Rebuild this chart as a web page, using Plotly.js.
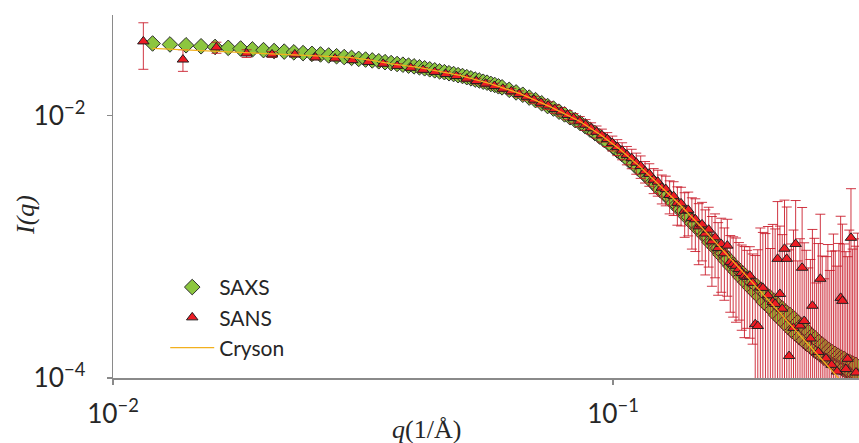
<!DOCTYPE html>
<html><head><meta charset="utf-8">
<script src="https://cdn.plot.ly/plotly-3.0.1.min.js"></script>
<style>html,body{margin:0;padding:0;background:#fff}#chart{width:859px;height:443px}</style>
</head><body><div id="chart"></div>
<script>
// SAXS data (q in 1/Å, intensity)
const saxsQ = [
0.012,0.013,0.014,0.015,0.016,0.017,0.018,0.019,0.020,0.021,
0.022,0.023,0.024,0.025,0.026,0.027,0.028,0.029,0.030,0.031,
0.032,0.033,0.034,0.035,0.036,0.037,0.038,0.039,0.040,0.041,
0.042,0.043,0.044,0.045,0.046,0.047,0.048,0.049,0.050,0.051,
0.052,0.053,0.054,0.055,0.056,0.057,0.058,0.059,0.060,
0.062,0.064,0.066,0.068,0.070,0.072,0.074,0.076,0.078,0.080,
0.082,0.084,0.086,0.088,0.090,0.092,0.094,0.096,0.098,0.100,
0.102,0.104,0.106,0.108,0.110,0.112,0.114,0.116,0.118,0.120,
0.122,0.124,0.126,0.128,0.130,0.132,0.134,0.136,0.138,0.140,
0.142,0.144,0.146,0.148,0.150,0.152,0.154,0.156,0.158,0.160,
0.162,0.164,0.166,0.168,0.170,0.172,0.174,0.176,0.178,0.180,
0.182,0.184,0.186,0.188,0.190,0.192,0.194,0.196,0.198,0.200,
0.202,0.204,0.206,0.208,0.210,0.212,0.214,0.216,0.218,0.220,
0.222,0.224,0.226,0.228,0.230,0.232,0.234,0.236,0.238,0.240,
0.242,0.244,0.246,0.248,0.250,0.252,0.254,0.256,0.258,0.260,
0.262,0.264,0.266,0.268,0.270,0.272,0.274,0.276,0.278,0.280,
0.282,0.284,0.286,0.288,0.290,0.292,0.294,0.296,0.298,0.300,
0.302,0.304,0.306,0.308];
const saxsI = [
3.54e-2,3.48e-2,3.43e-2,3.37e-2,3.33e-2,3.28e-2,3.24e-2,3.19e-2,3.15e-2,3.10e-2,
3.07e-2,3.03e-2,2.99e-2,2.95e-2,2.92e-2,2.87e-2,2.83e-2,2.79e-2,2.75e-2,2.70e-2,
2.67e-2,2.63e-2,2.59e-2,2.55e-2,2.51e-2,2.47e-2,2.44e-2,2.40e-2,2.37e-2,2.33e-2,
2.29e-2,2.25e-2,2.21e-2,2.17e-2,2.14e-2,2.10e-2,2.07e-2,2.03e-2,2.00e-2,1.96e-2,
1.92e-2,1.88e-2,1.85e-2,1.81e-2,1.78e-2,1.74e-2,1.71e-2,1.67e-2,1.64e-2,
1.57e-2,1.50e-2,1.44e-2,1.37e-2,1.31e-2,1.24e-2,1.18e-2,1.13e-2,1.07e-2,1.02e-2,
9.70e-3,9.23e-3,8.75e-3,8.28e-3,7.80e-3,7.35e-3,6.92e-3,6.52e-3,6.14e-3,5.78e-3,
5.42e-3,5.11e-3,4.82e-3,4.48e-3,4.28e-3,3.97e-3,3.78e-3,3.51e-3,3.36e-3,3.09e-3,
2.95e-3,2.72e-3,2.63e-3,2.43e-3,2.33e-3,2.15e-3,2.09e-3,1.92e-3,1.87e-3,1.70e-3,
1.68e-3,1.51e-3,1.49e-3,1.36e-3,1.34e-3,1.22e-3,1.20e-3,1.08e-3,1.09e-3,9.77e-4,
9.73e-4,8.71e-4,8.91e-4,7.85e-4,8.09e-4,7.08e-4,7.33e-4,6.46e-4,6.76e-4,5.86e-4,
6.24e-4,5.37e-4,5.75e-4,4.90e-4,5.31e-4,4.52e-4,5.01e-4,4.17e-4,4.68e-4,3.80e-4,
4.37e-4,3.55e-4,4.12e-4,3.31e-4,3.85e-4,3.02e-4,3.59e-4,2.82e-4,3.39e-4,2.63e-4,
3.16e-4,2.45e-4,3.02e-4,2.29e-4,2.85e-4,2.16e-4,2.66e-4,2.04e-4,2.51e-4,1.93e-4,
2.37e-4,1.82e-4,2.24e-4,1.74e-4,2.09e-4,1.64e-4,2.00e-4,1.57e-4,1.88e-4,1.50e-4,
1.80e-4,1.43e-4,1.72e-4,1.38e-4,1.64e-4,1.33e-4,1.58e-4,1.29e-4,1.53e-4,1.24e-4,
1.48e-4,1.22e-4,1.43e-4,1.17e-4,1.40e-4,1.14e-4,1.35e-4,1.11e-4,1.32e-4,1.08e-4,
1.29e-4,1.06e-4,1.26e-4,1.04e-4];

// SANS data with error bars
const sansQ = [
0.0115,0.0138,0.0161,0.0185,0.0208,0.0231,0.0254,0.0278,0.0301,0.0324,
0.0347,0.0370,0.0394,0.0417,0.0440,0.0463,0.0486,0.0510,0.0533,0.0556,
0.0579,0.0602,0.0626,0.0649,0.0672,0.0695,0.0718,0.0742,0.0765,0.0788,
0.0811,0.0834,0.0858,0.0881,0.0904,0.0927,0.0950,0.0974,0.0997,0.1020,
0.1043,0.1066,0.1090,0.1113,0.1136,0.1159,0.1182,0.1206,0.1229,0.1252,
0.1275,0.1298,0.1322,0.1345,0.1368,0.1391,0.1414,0.1438,0.1461,0.1484,
0.1507,0.1530,0.1554,0.1577,0.1600,0.1623,0.1646,0.1670,0.1693,0.1716,
0.1739,0.1762,0.1786,0.1809,0.1832,0.1855,0.1878,0.1902,0.1925,0.1948,
0.1971,0.1994,0.2018,0.2041,0.2064,0.2087,0.2110,0.2134,0.2157,0.2180,
0.2203,0.2226,0.2250,0.2273,0.2296,0.2319,0.2342,0.2366,0.2389,0.2412,
0.2435,0.2458,0.2482,0.2505,0.2528,0.2551,0.2574,0.2598,0.2621,0.2644,
0.2667,0.2690,0.2714,0.2737,0.2760,0.2783,0.2806,0.2830,0.2853,0.2876,
0.2899,0.2922,0.2946,0.2969,0.2992,0.3015,0.3038,0.3062,0.3085];
const sansI = [
3.67e-2,2.67e-2,3.30e-2,2.97e-2,2.92e-2,2.92e-2,2.77e-2,2.72e-2,2.64e-2,2.56e-2,
2.48e-2,2.39e-2,2.31e-2,2.23e-2,2.15e-2,2.07e-2,2.00e-2,1.91e-2,1.83e-2,1.75e-2,
1.68e-2,1.60e-2,1.53e-2,1.46e-2,1.39e-2,1.32e-2,1.25e-2,1.19e-2,1.12e-2,1.07e-2,
1.01e-2,9.55e-3,9.02e-3,8.51e-3,8.00e-3,7.52e-3,7.08e-3,6.61e-3,6.17e-3,5.75e-3,
5.40e-3,5.01e-3,4.73e-3,4.37e-3,4.12e-3,3.76e-3,3.59e-3,3.24e-3,3.13e-3,2.82e-3,
2.75e-3,2.48e-3,2.43e-3,2.16e-3,2.14e-3,1.88e-3,1.91e-3,1.66e-3,1.62e-3,1.43e-3,
1.48e-3,1.26e-3,1.35e-3,1.10e-3,1.18e-3,9.77e-4,1.05e-3,8.91e-4,1.02e-3,7.67e-4,
7.41e-4,7.16e-4,6.76e-4,6.31e-4,6.03e-4,5.89e-4,6.01e-4,5.31e-4,2.57e-4,2.49e-4,
4.90e-4,4.86e-4,6.0e-5,4.27e-4,7.0e-5,3.80e-4,3.67e-4,8.09e-4,4.37e-4,3.37e-4,
9.66e-4,8.09e-4,1.47e-4,5.0e-5,2.41e-4,1.05e-3,8.0e-5,2.51e-4,6.92e-4,2.72e-4,
4.0e-5,9.0e-5,2.00e-4,3.55e-4,6.0e-5,3.0e-5,1.58e-4,5.70e-4,5.0e-5,7.0e-5,
1.41e-4,4.0e-5,6.0e-5,1.26e-4,5.0e-5,3.0e-5,1.12e-4,6.0e-5,4.08e-4,3.87e-4,
5.0e-5,1.17e-4,1.40e-4,4.0e-5,1.17e-3,6.0e-5,5.0e-5,1.10e-4,7.0e-5];
const sansErr = [
1.42e-2,5.0e-3,3.2e-3,2.0e-3,1.5e-3,1.2e-3,1.1e-3,1.0e-3,1.0e-3,1.0e-3,
1.0e-3,9e-4,9e-4,9e-4,9e-4,9e-4,9e-4,9e-4,9e-4,9e-4,
8e-4,8e-4,8e-4,8e-4,8e-4,8e-4,8e-4,8e-4,8e-4,8e-4,
8e-4,8e-4,8e-4,8e-4,8e-4,8e-4,8e-4,8e-4,8e-4,8e-4,
8e-4,8e-4,8e-4,8e-4,8e-4,7e-4,7e-4,7e-4,7e-4,7e-4,
7e-4,7e-4,7e-4,7e-4,7e-4,7e-4,7e-4,7e-4,7e-4,7e-4,
7e-4,6.5e-4,6.5e-4,6e-4,6e-4,5.5e-4,6e-4,5e-4,6e-4,4.5e-4,
4.5e-4,4.5e-4,4e-4,4e-4,4e-4,3.5e-4,4e-4,3.5e-4,6e-4,7e-4,
9e-4,8e-4,1.2e-3,1.0e-3,9e-4,1.1e-3,1.0e-3,1.4e-3,1.0e-3,9e-4,
1.3e-3,1.2e-3,8e-4,1.0e-3,1.1e-3,1.2e-3,7e-4,9e-4,1.3e-3,8e-4,
9e-4,6e-4,6e-4,1.0e-3,1.1e-3,5e-4,9e-4,1.2e-3,8e-4,5e-4,
7e-4,1.0e-3,6e-4,8e-4,1.2e-3,9e-4,6e-4,1.0e-3,1.3e-3,1.1e-3,
1.0e-3,8e-4,7e-4,1.3e-3,1.6e-3,9e-4,1.1e-3,9e-4,1.2e-3];

// Cryson model curve
const crysonQ = [0.0120,0.0149,0.0188,0.0237,0.0265,0.0298,0.0330,0.0358,0.0411,0.0494,
0.0568,0.0652,0.0748,0.0859,0.0942,0.1033,0.1132,0.1242,0.1361,0.1493,
0.1637,0.1795,0.1968,0.2158,0.2366,0.2594,0.2884];
const crysonI = [3.25e-2,3.13e-2,3.03e-2,2.90e-2,2.84e-2,2.77e-2,2.63e-2,2.49e-2,2.32e-2,2.02e-2,
1.75e-2,1.47e-2,1.17e-2,9.00e-3,7.16e-3,5.50e-3,4.08e-3,2.92e-3,2.09e-3,1.45e-3,
1.00e-3,6.79e-4,4.61e-4,3.13e-4,2.13e-4,1.42e-4,9.16e-5];

const seriesNames = ['SAXS','SANS','Cryson'];
const xTitle = '<i>q</i>(1/Å)';
const yTitle = '<i>I(q)</i>';

const axisColor = '#8a8a8a';
const tickFont = {family:'Lato, "Open Sans", sans-serif', size:21, color:'#262626'};

const traces = [
  {x:saxsQ, y:saxsI, name:seriesNames[0], type:'scatter', mode:'markers',
   marker:{symbol:'diamond', size:12, color:'#8cc63f', line:{color:'#2d2d2d', width:1}}},
  {x:sansQ, y:sansI, name:seriesNames[1], type:'scatter', mode:'markers',
   marker:{symbol:'triangle-up', size:10, color:'#ed1c24', line:{color:'#231f20', width:1}},
   error_y:{type:'data', array:sansErr, visible:true, color:'rgba(200,20,35,0.85)', thickness:1, width:5}},
  {x:crysonQ, y:crysonI, name:seriesNames[2], type:'scatter', mode:'lines',
   line:{color:'#f2b01e', width:1.3}}
];

const layout = {
  width:859, height:443,
  margin:{l:113, r:0, t:15, b:65, pad:0},
  paper_bgcolor:'#ffffff', plot_bgcolor:'#ffffff',
  showlegend:true,
  legend:{x:0.07, y:0.306, xanchor:'left', yanchor:'top', bgcolor:'rgba(0,0,0,0)', itemwidth:44,
          font:{family:'Lato, "Open Sans", sans-serif', size:21, color:'#262626'}},
  xaxis:{type:'log', range:[-2,-0.508], dtick:1, exponentformat:'power',
         showgrid:false, zeroline:false, showline:true, linecolor:axisColor, linewidth:1.5,
         ticks:'outside', ticklen:5, tickwidth:1.3, tickcolor:axisColor, tickfont:tickFont,
         ticklabelstandoff:8},
  yaxis:{type:'log', range:[-4,-1.234], dtick:2, tick0:0, exponentformat:'power',
         showgrid:false, zeroline:false, showline:true, linecolor:axisColor, linewidth:1.5,
         ticks:'outside', ticklen:5, tickwidth:1.3, tickcolor:axisColor, tickfont:tickFont,
         ticklabelstandoff:17},
  annotations:[
    {text:xTitle, xref:'paper', yref:'paper', x:0.4196, y:-0.143, xanchor:'center', yanchor:'middle',
     showarrow:false, font:{family:'"Liberation Serif", "Times New Roman", serif', size:26, color:'#262626'}},
    {text:yTitle, xref:'paper', yref:'paper', x:-0.118, y:0.449, xanchor:'center', yanchor:'middle',
     textangle:-90, showarrow:false, font:{family:'"Liberation Serif", "Times New Roman", serif', size:26, color:'#262626'}}
  ]
};

Plotly.newPlot('chart', traces, layout, {displayModeBar:false, staticPlot:true});
</script></body></html>
